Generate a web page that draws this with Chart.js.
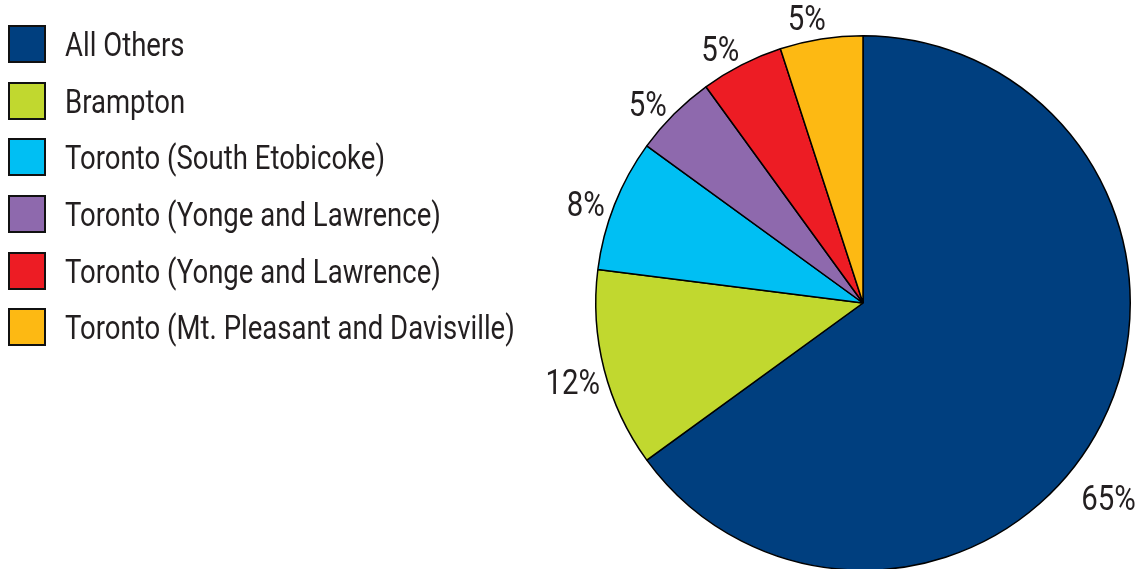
<!DOCTYPE html>
<html>
<head>
<meta charset="utf-8">
<script src="https://cdn.jsdelivr.net/npm/chart.js@4.4.1/dist/chart.umd.min.js"></script>
<style>
    html, body { margin: 0; padding: 0; background: #fff; overflow: hidden; }
    body { width: 1142px; height: 569px; position: relative; }
    #wrap { position: absolute; left: 0; top: 0; width: 1142px; height: 620px; }
    #legend { position: absolute; left: 8px; top: 25px; margin: 0; padding: 0; list-style: none;
        font-family: Roboto, "DejaVu Sans Condensed", sans-serif; font-weight: 400;
        font-size: 34px; color: #231f20; }
    #legend li { display: flex; align-items: center; height: 38px; margin-bottom: 18.7px; white-space: nowrap; }
    #legend .box { width: 34px; height: 34px; border: 2px solid #111; margin-right: 19px; flex: none; }
    #legend .txt { display: inline-block; transform: scaleX(0.81); transform-origin: left center; }
</style>
</head>
<body>
<div id="wrap"><canvas id="pie"></canvas></div>
<ul id="legend"></ul>
<script>
// ==================== DATA ====================
const labels = [
    "All Others",
    "Brampton",
    "Toronto (South Etobicoke)",
    "Toronto (Yonge and Lawrence)",
    "Toronto (Yonge and Lawrence)",
    "Toronto (Mt. Pleasant and Davisville)",
];
const shares = [65, 12, 8, 5, 5, 5];
const colors = ['#003f7f', '#c1d82f', '#00bff3', '#8e69ad', '#ed1c24', '#fdb913'];

const FONT = 'Roboto, "DejaVu Sans Condensed", sans-serif';
const SQUEEZE = 0.84;

// ==================== LEGEND ====================
const legendEl = document.getElementById("legend");
labels.forEach((name, i) => {
    const li = document.createElement("li");
    const box = document.createElement("span");
    box.className = "box";
    box.style.background = colors[i];
    const txt = document.createElement("span");
    txt.className = "txt";
    txt.textContent = name;
    li.appendChild(box);
    li.appendChild(txt);
    legendEl.appendChild(li);
});

// ==================== LABELS ====================
const outsideLabels = {
    id: "outsideLabels",
    afterDatasetsDraw(chart) {
        const ctx = chart.ctx;
        const meta = chart.getDatasetMeta(0);
        const limit = chart.width - 5;
        ctx.save();
        ctx.font = "400 35px " + FONT;
        ctx.fillStyle = "#231f20";
        ctx.textAlign = "center";
        ctx.textBaseline = "middle";
        meta.data.forEach((arc, i) => {
            const p = arc.getProps(["x", "y", "startAngle", "endAngle", "outerRadius"], true);
            const text = shares[i] + "%";
            const w = ctx.measureText(text).width * SQUEEZE;
            const h = 26;
            let a = (p.startAngle + p.endAngle) / 2 - Math.PI / 90;
            let r = p.outerRadius + 8;
            let cx, cy;
            for (let k = 0; k < 90; k++) {
                const dx = Math.cos(a), dy = Math.sin(a);
                cx = p.x + r * dx + dx * w / 2;
                cy = p.y + r * dy + dy * h / 2;
                if (cx + w / 2 <= limit) break;
                // pushed off the right edge: slide down the rim and outwards
                a += Math.PI / 360;
                r += 0.6;
            }
            ctx.save();
            ctx.translate(cx, cy + 1);
            ctx.scale(SQUEEZE, 1);
            ctx.fillText(text, 0, 0);
            ctx.restore();
        });
        ctx.restore();
    }
};

// ==================== CHART ====================
new Chart(document.getElementById("pie"), {
    type: "pie",
    data: {
        labels: labels,
        datasets: [{
            data: shares,
            backgroundColor: colors,
            borderColor: "#000",
            borderWidth: 1.5,
        }]
    },
    options: {
        responsive: true,
        maintainAspectRatio: false,
        animation: false,
        layout: { padding: { left: 595, right: 11, top: 35, bottom: 49 } },
        plugins: {
            legend: { display: false },
            tooltip: { enabled: false },
        },
    },
    plugins: [outsideLabels],
});
</script>
</body>
</html>
